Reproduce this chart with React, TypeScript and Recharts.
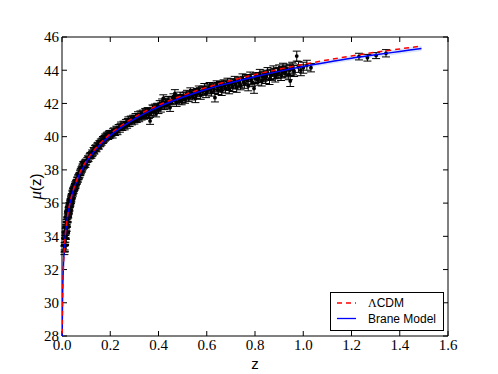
import React from 'react';
import { ComposedChart, XAxis, YAxis, Scatter, Line, Area, ErrorBar, Legend } from 'recharts';

// ---- Supernova data ----
const snZ = [
  0.010, 0.011, 0.012, 0.013, 0.014, 0.015, 0.016, 0.017, 0.018, 0.019,
  0.020, 0.021, 0.022, 0.023, 0.024, 0.025, 0.026, 0.027, 0.028, 0.029,
  0.030, 0.031, 0.032, 0.033, 0.034, 0.035, 0.036, 0.037, 0.038, 0.039,
  0.040, 0.042, 0.043, 0.045, 0.046, 0.048, 0.050, 0.052, 0.054, 0.056,
  0.058, 0.060, 0.062, 0.064, 0.066, 0.068, 0.070, 0.073, 0.076, 0.079,
  0.082, 0.085, 0.088, 0.091, 0.094, 0.097, 0.100,
  0.105, 0.110, 0.114, 0.118, 0.122, 0.125, 0.128, 0.131, 0.134, 0.137,
  0.140, 0.143, 0.146, 0.149, 0.152, 0.155, 0.158, 0.161, 0.164, 0.167,
  0.170, 0.173, 0.176, 0.179, 0.182, 0.185, 0.188, 0.191, 0.194, 0.197, 0.200,
  0.205, 0.210, 0.215, 0.220, 0.225, 0.230, 0.235, 0.240, 0.245, 0.250,
  0.255, 0.260, 0.265, 0.270, 0.275, 0.280, 0.285, 0.290, 0.295, 0.300,
  0.305, 0.310, 0.315, 0.320, 0.325, 0.330, 0.335, 0.340, 0.345, 0.350,
  0.355, 0.360, 0.365, 0.370, 0.375, 0.380, 0.385, 0.390, 0.395, 0.400,
  0.405, 0.410, 0.415, 0.420, 0.425, 0.430, 0.435, 0.440, 0.448, 0.455,
  0.462, 0.468, 0.475, 0.482, 0.490, 0.496, 0.503, 0.510, 0.518, 0.525,
  0.532, 0.540, 0.546, 0.553, 0.560, 0.567, 0.575, 0.582, 0.590, 0.597,
  0.605, 0.612, 0.620, 0.628, 0.634, 0.641, 0.648, 0.655, 0.662, 0.670,
  0.678, 0.686, 0.693, 0.700,
  0.708, 0.716, 0.724, 0.732, 0.740, 0.748, 0.756, 0.764, 0.772, 0.780,
  0.788, 0.796, 0.804, 0.812, 0.820, 0.828, 0.836, 0.844, 0.852, 0.860,
  0.868, 0.876, 0.884, 0.892, 0.900, 0.908, 0.916, 0.924, 0.932, 0.940,
  0.946, 0.954, 0.962, 0.973, 0.980, 0.990, 1.000, 1.015, 1.032,
  1.231, 1.266, 1.302, 1.343,
  0.0105, 0.0125, 0.0145, 0.0155, 0.0165, 0.0175, 0.0185, 0.0195, 0.0215, 0.0235,
  0.0245, 0.0255, 0.0275, 0.0285, 0.0295, 0.0315, 0.0335, 0.0355, 0.0375, 0.0395,
  0.041, 0.044, 0.047, 0.049, 0.051, 0.053, 0.055, 0.057, 0.059, 0.063,
  0.067, 0.071, 0.075, 0.078, 0.081, 0.084, 0.087, 0.090, 0.093, 0.096, 0.099,
  0.108, 0.116, 0.124, 0.133, 0.142, 0.151, 0.160, 0.169, 0.178, 0.187, 0.196,
  0.212, 0.228, 0.243, 0.258, 0.273, 0.288, 0.303, 0.318, 0.333, 0.348, 0.363,
  0.378, 0.393,
  0.412, 0.428, 0.444, 0.458, 0.472, 0.486, 0.500, 0.514, 0.528, 0.543,
  0.557, 0.571, 0.586, 0.601, 0.616, 0.631, 0.645, 0.660, 0.675, 0.690,
  0.705, 0.720, 0.736, 0.752, 0.768, 0.784, 0.800, 0.816, 0.832, 0.848,
  0.864, 0.880, 0.896, 0.912, 0.928, 0.944, 0.958,
];
const snMu = [
  33.15, 33.40, 33.30, 33.70, 33.85, 34.05, 34.00, 34.35, 34.50, 34.45,
  34.75, 34.70, 34.95, 35.05, 35.00, 35.30, 35.25, 35.45, 35.55, 35.50,
  35.70, 35.65, 35.90, 35.85, 36.05, 35.95, 36.15, 36.10, 36.30, 36.20,
  36.40, 36.45, 36.60, 36.55, 36.75, 36.70, 36.85, 36.90, 37.05, 37.00,
  37.20, 37.25, 37.30, 37.45, 37.40, 37.55, 37.60, 37.70, 37.80, 37.90,
  38.00, 38.20, 38.35, 38.25, 38.40, 38.30, 38.45,
  38.60, 38.65, 38.80, 38.90, 38.85, 39.05, 39.00, 39.20, 39.10, 39.30,
  39.35, 39.25, 39.45, 39.50, 39.40, 39.60, 39.55, 39.70, 39.65, 39.75,
  39.85, 39.80, 39.90, 40.00, 39.95, 40.05, 40.10, 40.00, 40.15, 40.20, 40.10,
  40.20, 40.10, 40.35, 40.25, 40.45, 40.30, 40.55, 40.45, 40.70, 40.55,
  40.75, 40.60, 40.85, 40.70, 41.00, 40.80, 41.05, 40.90, 41.10, 40.95,
  41.20, 41.05, 41.30, 41.10, 41.35, 41.20, 41.40, 41.25, 41.50, 41.35,
  41.55, 41.30, 40.95, 41.45, 41.70, 41.50, 41.75, 41.40, 41.80, 41.60,
  41.95, 41.70, 42.05, 42.30, 41.85, 42.10, 41.90, 42.20, 41.75, 42.15,
  42.35, 42.60, 42.05, 42.30, 42.45, 42.15, 42.40, 42.25, 42.55, 42.35,
  42.70, 42.45, 42.55, 42.30, 42.65, 42.80, 42.50, 42.75, 42.95, 42.60,
  42.85, 43.00, 42.70, 42.95, 42.35, 43.10, 42.80, 43.05, 42.75, 43.15,
  42.90, 43.25, 42.85, 43.20,
  43.00, 43.35, 42.95, 43.30, 43.10, 43.50, 43.20, 43.45, 43.05, 43.60,
  43.30, 42.90, 43.55, 43.40, 43.75, 43.35, 43.65, 43.50, 43.85, 43.45,
  43.70, 43.95, 43.60, 43.80, 44.00, 43.70, 44.10, 43.85, 44.05, 43.75,
  43.35, 44.15, 43.95, 44.85, 44.20, 44.00, 44.15, 44.30, 44.15,
  44.82, 44.75, 44.88, 45.02,
  33.25, 33.65, 34.10, 34.30, 34.40, 34.55, 34.70, 34.85, 35.00, 35.20,
  35.35, 35.40, 35.60, 35.65, 35.75, 35.90, 36.00, 36.10, 36.25, 36.35,
  36.45, 36.65, 36.80, 36.85, 36.95, 37.00, 37.15, 37.10, 37.25, 37.40,
  37.55, 37.65, 37.85, 37.95, 38.05, 38.10, 38.20, 38.30, 38.35, 38.45, 38.50,
  38.70, 38.85, 38.95, 39.15, 39.30, 39.45, 39.60, 39.75, 39.90, 40.00, 40.05,
  40.30, 40.40, 40.60, 40.70, 40.90, 41.00, 41.10, 41.20, 41.30, 41.45, 41.50,
  41.65, 41.75,
  41.85, 42.00, 42.05, 42.20, 42.25, 42.20, 42.30, 42.45, 42.50, 42.60,
  42.55, 42.70, 42.80, 42.75, 42.90, 42.85, 43.00, 42.95, 43.10, 43.05,
  43.20, 43.15, 43.25, 43.35, 43.40, 43.45, 43.50, 43.55, 43.60, 43.70,
  43.75, 43.80, 43.85, 43.90, 43.95, 44.00, 44.05,
];
const snErr = [
  0.25, 0.22, 0.22, 0.20, 0.20, 0.18, 0.19, 0.17, 0.17, 0.16,
  0.16, 0.15, 0.15, 0.15, 0.15, 0.14, 0.14, 0.14, 0.14, 0.14,
  0.13, 0.13, 0.13, 0.13, 0.13, 0.13, 0.13, 0.13, 0.13, 0.13,
  0.13, 0.13, 0.13, 0.13, 0.13, 0.13, 0.13, 0.13, 0.13, 0.13,
  0.13, 0.13, 0.13, 0.13, 0.14, 0.14, 0.14, 0.14, 0.14, 0.14,
  0.14, 0.15, 0.15, 0.15, 0.15, 0.15, 0.15,
  0.15, 0.15, 0.15, 0.15, 0.15, 0.15, 0.15, 0.15, 0.15, 0.16,
  0.16, 0.16, 0.16, 0.16, 0.16, 0.16, 0.16, 0.16, 0.16, 0.16,
  0.16, 0.16, 0.16, 0.16, 0.16, 0.17, 0.17, 0.17, 0.17, 0.17, 0.17,
  0.18, 0.18, 0.18, 0.18, 0.18, 0.18, 0.18, 0.18, 0.18, 0.18,
  0.18, 0.19, 0.19, 0.19, 0.19, 0.19, 0.19, 0.19, 0.19, 0.19,
  0.19, 0.20, 0.20, 0.20, 0.20, 0.20, 0.20, 0.20, 0.20, 0.20,
  0.20, 0.21, 0.21, 0.21, 0.21, 0.21, 0.21, 0.21, 0.21, 0.21,
  0.22, 0.22, 0.22, 0.22, 0.22, 0.22, 0.22, 0.22, 0.23, 0.23,
  0.23, 0.23, 0.23, 0.23, 0.23, 0.23, 0.24, 0.24, 0.24, 0.24,
  0.24, 0.24, 0.24, 0.25, 0.25, 0.25, 0.25, 0.25, 0.25, 0.25,
  0.26, 0.26, 0.26, 0.26, 0.26, 0.26, 0.26, 0.27, 0.27, 0.27,
  0.27, 0.27, 0.27, 0.28,
  0.28, 0.28, 0.28, 0.28, 0.28, 0.28, 0.29, 0.29, 0.29, 0.29,
  0.29, 0.29, 0.30, 0.30, 0.30, 0.30, 0.30, 0.30, 0.31, 0.31,
  0.31, 0.31, 0.31, 0.31, 0.32, 0.32, 0.32, 0.32, 0.32, 0.32,
  0.33, 0.33, 0.33, 0.30, 0.33, 0.33, 0.33, 0.30, 0.25,
  0.20, 0.20, 0.18, 0.22,
  0.20, 0.20, 0.18, 0.18, 0.17, 0.17, 0.16, 0.16, 0.15, 0.15,
  0.15, 0.14, 0.14, 0.14, 0.14, 0.13, 0.13, 0.13, 0.13, 0.13,
  0.13, 0.13, 0.13, 0.13, 0.13, 0.13, 0.13, 0.13, 0.13, 0.13,
  0.14, 0.14, 0.14, 0.14, 0.14, 0.15, 0.15, 0.15, 0.15, 0.15, 0.15,
  0.15, 0.15, 0.15, 0.15, 0.16, 0.16, 0.16, 0.16, 0.16, 0.17, 0.17,
  0.18, 0.18, 0.18, 0.18, 0.19, 0.19, 0.19, 0.20, 0.20, 0.20, 0.21,
  0.21, 0.21,
  0.22, 0.22, 0.22, 0.23, 0.23, 0.23, 0.24, 0.24, 0.24, 0.24,
  0.25, 0.25, 0.25, 0.25, 0.26, 0.26, 0.26, 0.27, 0.27, 0.27,
  0.28, 0.28, 0.28, 0.28, 0.29, 0.29, 0.29, 0.30, 0.30, 0.30,
  0.31, 0.31, 0.31, 0.32, 0.32, 0.32, 0.33,
];

// ---- Model curves ----
const modelZ = [
  0.0007, 0.001, 0.002, 0.005, 0.01, 0.015, 0.02, 0.03, 0.04, 0.05, 0.07,
  0.1, 0.15, 0.2, 0.25, 0.3, 0.4, 0.5, 0.6, 0.7, 0.8, 0.9, 1.0, 1.1, 1.2,
  1.3, 1.4, 1.49,
];
const lcdmMu = [
  27.59, 28.36, 29.87, 31.86, 33.38, 34.27, 34.90, 35.80, 36.44, 36.94, 37.70,
  38.52, 39.47, 40.17, 40.71, 41.17, 41.90, 42.48, 42.97, 43.38, 43.74, 44.06,
  44.35, 44.62, 44.86, 45.08, 45.28, 45.46,
];
const braneMu = [
  27.57, 28.34, 29.85, 31.84, 33.36, 34.24, 34.87, 35.76, 36.40, 36.89, 37.64,
  38.45, 39.39, 40.08, 40.61, 41.06, 41.79, 42.37, 42.86, 43.25, 43.61, 43.93,
  44.22, 44.48, 44.72, 44.93, 45.13, 45.31,
];
const braneBandHalf = [
  0.04, 0.04, 0.04, 0.04, 0.05, 0.05, 0.05, 0.05, 0.05, 0.05, 0.06,
  0.06, 0.07, 0.07, 0.08, 0.08, 0.09, 0.10, 0.10, 0.11, 0.12, 0.12,
  0.13, 0.14, 0.14, 0.15, 0.15, 0.16,
];

const xTicks = [0, 0.2, 0.4, 0.6, 0.8, 1.0, 1.2, 1.4, 1.6];
const yTicks = [28, 30, 32, 34, 36, 38, 40, 42, 44, 46];
const seriesNames = ['ΛCDM', 'Brane Model'];

const snData = snZ.map((z, i) => ({ z, mu: snMu[i], err: snErr[i] }));
const lcdmData = modelZ.map((z, i) => ({ z, mu: lcdmMu[i] }));
const braneData = modelZ.map((z, i) => ({ z, mu: braneMu[i] }));
const bandData = modelZ.map((z, i) => ({
  z,
  band: [braneMu[i] - braneBandHalf[i], braneMu[i] + braneBandHalf[i]],
}));

const serif = '"Liberation Serif", "Times New Roman", serif';
const sans = '"Liberation Sans", Arial, sans-serif';
const tickStyle = { fontFamily: serif, fontSize: 15, fill: '#000' };

const Dot = (props: any) => {
  const { cx, cy } = props;
  if (cx == null || cy == null) return <g />;
  return <circle cx={cx} cy={cy} r={1.9} fill="#000" />;
};

const Empty = () => <g />;

const LegendBox = (props: any) => {
  const payload = (props.payload || []).filter((p: any) => seriesNames.includes(p.value));
  payload.sort((a: any, b: any) => seriesNames.indexOf(a.value) - seriesNames.indexOf(b.value));
  return (
    <svg width={114} height={39} style={{ display: 'block' }}>
      <rect x={0.5} y={0.5} width={113} height={38} fill="#fff" stroke="#000" strokeWidth={1} />
      {payload.map((p: any, i: number) => {
        const y = 11 + i * 15.5;
        const dashed = p.value === 'ΛCDM';
        return (
          <g key={p.value}>
            <line x1={7} x2={26} y1={y} y2={y} stroke={p.color} strokeWidth={1.3}
              strokeDasharray={dashed ? '5 4' : undefined} />
            <text x={38} y={y + 4.3} fontFamily={sans} fontSize={12} fill="#000">
              {dashed ? (
                <>
                  <tspan fontFamily={serif}>Λ</tspan>
                  <tspan>CDM</tspan>
                </>
              ) : p.value}
            </text>
          </g>
        );
      })}
    </svg>
  );
};

const XLabel = (props: any) => {
  const vb = props.viewBox || {};
  return (
    <text x={vb.x + vb.width / 2} y={vb.y + 33} textAnchor="middle" fontFamily={sans} fontSize={15} fill="#000">
      z
    </text>
  );
};

const YLabel = (props: any) => {
  const vb = props.viewBox || {};
  const cx = vb.x + 35;
  const cy = vb.y + vb.height / 2;
  return (
    <text x={cx} y={cy} textAnchor="middle" dominantBaseline="central" transform={`rotate(-90 ${cx} ${cy})`}
      fontFamily={sans} fontSize={15} fill="#000">
      <tspan fontFamily={serif} fontStyle="italic" fontSize={17}>μ</tspan>
      <tspan>(z)</tspan>
    </text>
  );
};

export default function App() {
  return (
    <div style={{ position: 'absolute', left: 0, top: 0, width: 498, height: 374, background: '#fff' }}>
      <ComposedChart width={498} height={374} margin={{ top: 7, right: 20, bottom: 8, left: 0 }}>
        <XAxis
          xAxisId="main"
          dataKey="z"
          type="number"
          domain={[0, 1.6]}
          ticks={xTicks}
          interval={0}
          allowDataOverflow
          height={30}
          tickSize={-5}
          tickMargin={8}
          tickFormatter={(v: number) => v.toFixed(1)}
          tick={tickStyle}
          axisLine={{ stroke: '#000', strokeWidth: 1 }}
          tickLine={{ stroke: '#000', strokeWidth: 1 }}
          label={{ content: XLabel }}
        />
        <XAxis
          xAxisId="top"
          orientation="top"
          dataKey="z"
          type="number"
          domain={[0, 1.6]}
          ticks={xTicks}
          interval={0}
          allowDataOverflow
          height={30}
          tickSize={-5}
          tick={Empty}
          axisLine={{ stroke: '#000', strokeWidth: 1 }}
          tickLine={{ stroke: '#000', strokeWidth: 1 }}
        />
        <YAxis
          yAxisId="main"
          type="number"
          domain={[28, 46]}
          ticks={yTicks}
          interval={0}
          allowDataOverflow
          width={62}
          tickSize={-5}
          tickMargin={8}
          tick={tickStyle}
          axisLine={{ stroke: '#000', strokeWidth: 1 }}
          tickLine={{ stroke: '#000', strokeWidth: 1 }}
          label={{ content: YLabel }}
        />
        <YAxis
          yAxisId="right"
          orientation="right"
          type="number"
          domain={[28, 46]}
          ticks={yTicks}
          interval={0}
          allowDataOverflow
          width={30}
          tickSize={-5}
          tick={Empty}
          axisLine={{ stroke: '#000', strokeWidth: 1 }}
          tickLine={{ stroke: '#000', strokeWidth: 1 }}
        />
        <Area
          xAxisId="main"
          yAxisId="main"
          data={bandData}
          dataKey="band"
          type="monotone"
          stroke="none"
          fill="#b9cdf2"
          fillOpacity={0.55}
          legendType="none"
          isAnimationActive={false}
          dot={false}
          activeDot={false}
        />
        <Scatter
          xAxisId="main"
          yAxisId="main"
          data={snData}
          dataKey="mu"
          shape={Dot}
          legendType="none"
          isAnimationActive={false}
        >
          <ErrorBar dataKey="err" direction="y" width={4} stroke="#000" strokeWidth={1} isAnimationActive={false} />
        </Scatter>
        <Line
          xAxisId="main"
          yAxisId="main"
          data={braneData}
          dataKey="mu"
          name="Brane Model"
          type="monotone"
          stroke="#0000ff"
          strokeWidth={1.5}
          dot={false}
          activeDot={false}
          isAnimationActive={false}
          {...({ zIndex: 900 } as any)}
        />
        <Line
          xAxisId="main"
          yAxisId="main"
          data={lcdmData}
          dataKey="mu"
          name="ΛCDM"
          type="monotone"
          stroke="#ff0000"
          strokeWidth={1.5}
          strokeDasharray="5 4"
          dot={false}
          activeDot={false}
          isAnimationActive={false}
          {...({ zIndex: 950 } as any)}
        />
        <Legend
          layout="horizontal"
          verticalAlign="middle"
          align="center"
          content={LegendBox}
          wrapperStyle={{ left: 330, top: 292, width: 114, height: 39 }}
        />
      </ComposedChart>
    </div>
  );
}
